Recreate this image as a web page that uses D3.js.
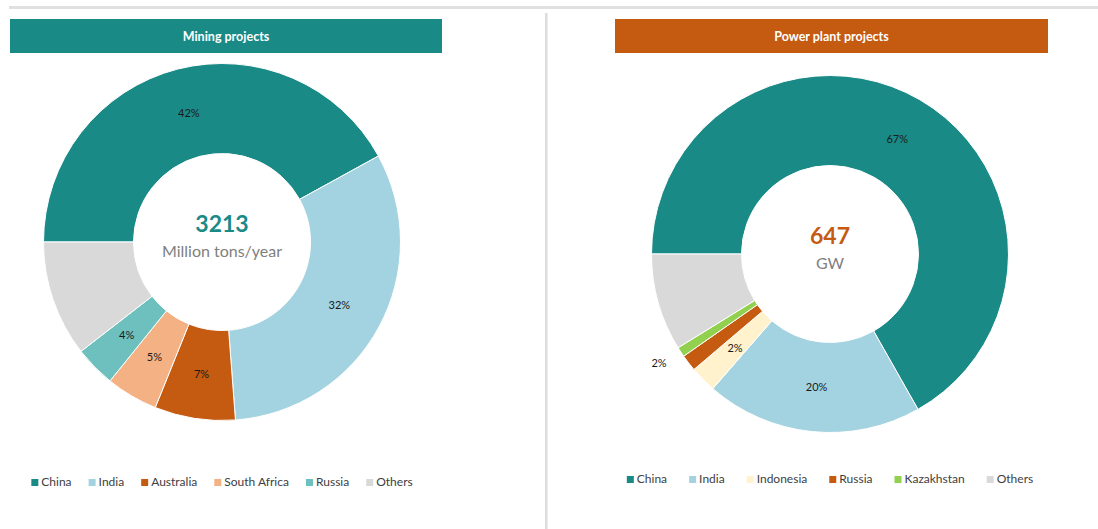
<!DOCTYPE html>
<html>
<head>
<meta charset="utf-8">
<script src="https://cdn.jsdelivr.net/npm/d3@7"></script>
<style>
  body { margin: 0; background: #fff; }
  svg { display: block; font-family: Lato, "Open Sans", sans-serif; }
</style>
</head>
<body>
<svg id="drawing_region"></svg>
<script>
// mining projects (share of 3213 Mt/yr, %)
const miningCountries = ["China", "India", "Australia", "South Africa", "Russia", "Others"];
const miningShares = [42.0, 31.8, 7.3, 4.7, 3.7, 10.5];
const miningColors = ["#1a8a87", "#a3d3e0", "#c55a11", "#f4b183", "#6dc0bd", "#d9d9d9"];
const miningLabelled = ["China", "India", "Australia", "South Africa", "Russia"];

// power plant projects (share of 647 GW, %)
const powerCountries = ["China", "India", "Indonesia", "Russia", "Kazakhstan", "Others"];
const powerShares = [66.8, 19.6, 2.4, 1.5, 0.9, 8.8];
const powerColors = ["#1a8a87", "#a3d3e0", "#fff2cc", "#c55a11", "#92d050", "#d9d9d9"];
const powerLabelled = ["China", "India", "Indonesia", "Russia"];
const powerOutside = ["Russia"];

const W = 1098, H = 529;
const svg = d3.select('#drawing_region').attr('width', W).attr('height', H);

// top rule and divider
svg.append('rect').attr('x', 9).attr('y', 6).attr('width', W - 9).attr('height', 3).attr('fill', '#e0e0e0');
svg.append('rect').attr('x', 545).attr('y', 13).attr('width', 2.5).attr('height', H - 13).attr('fill', '#dcdcdc');

function donut(cfg) {
    const g = svg.append('g');

    // header bar
    g.append('rect')
        .attr('x', cfg.header[0]).attr('y', 19)
        .attr('width', cfg.header[1] - cfg.header[0]).attr('height', 34)
        .attr('fill', cfg.headerColor);
    g.append('text')
        .attr('x', (cfg.header[0] + cfg.header[1]) / 2).attr('y', 40.5)
        .attr('text-anchor', 'middle')
        .attr('fill', '#fff')
        .style('font-size', '12.5px').style('font-weight', 'bold')
        .text(cfg.title);

    const data = cfg.categories.map((c, i) => ({ name: c, value: cfg.values[i], color: cfg.colors[i] }));
    const pie = d3.pie().sort(null).value(d => d.value)
        .startAngle(-Math.PI / 2).endAngle(Math.PI * 3 / 2);
    const arcs = pie(data);
    const rIn = 88.5, rOut = 178.5;
    const arc = d3.arc().innerRadius(rIn).outerRadius(rOut);

    const chart = g.append('g').attr('transform', `translate(${cfg.cx}, ${cfg.cy})`);
    chart.selectAll('path')
        .data(arcs)
        .enter()
        .append('path')
        .attr('d', arc)
        .attr('fill', d => d.data.color)
        .attr('stroke', '#fff')
        .attr('stroke-width', 1);

    // percent labels
    const fmt = v => Math.round(v) + '%';
    chart.selectAll('text.pct')
        .data(arcs.filter(d => cfg.labelled.includes(d.data.name)))
        .enter()
        .append('text')
        .attr('class', 'pct')
        .attr('transform', d => {
            if ((cfg.outside || []).includes(d.data.name)) {
                const a = (d.startAngle + d.endAngle) / 2 + 5 * Math.PI / 180;
                return `translate(${203 * Math.sin(a)}, ${-203 * Math.cos(a)})`;
            }
            const c = arc.centroid(d);
            return `translate(${c[0]}, ${c[1]})`;
        })
        .attr('text-anchor', 'middle')
        .attr('dy', '0.35em')
        .attr('fill', '#1a1a1a')
        .style('font-size', '11px')
        .text(d => fmt(d.data.value));

    // centre text
    chart.append('text')
        .attr('text-anchor', 'middle').attr('y', cfg.totalY)
        .attr('fill', cfg.totalColor)
        .style('font-size', '23px').style('font-weight', 'bold')
        .text(cfg.total);
    chart.append('text')
        .attr('text-anchor', 'middle').attr('y', cfg.unitY)
        .attr('fill', '#808080')
        .style('font-size', '16px')
        .text(cfg.unit);

    // legend, centred under the donut
    const legend = g.append('g').attr('transform', `translate(0, ${cfg.legendY})`);
    const items = legend.selectAll('g')
        .data(data)
        .enter()
        .append('g');
    items.append('rect')
        .attr('y', -7).attr('width', 7).attr('height', 7)
        .attr('fill', d => d.color);
    items.append('text')
        .attr('x', 10).attr('y', 0)
        .attr('fill', '#404040')
        .style('font-size', '12px')
        .text(d => d.name);
    let x = 0;
    const gap = cfg.legendGap;
    items.each(function() {
        const w = this.getBBox().width;
        d3.select(this).attr('transform', `translate(${x}, 0)`);
        x += w + gap;
    });
    const total = x - gap;
    legend.attr('transform', `translate(${cfg.cx - total / 2}, ${cfg.legendY})`);
}

donut({
    title: 'Mining projects', header: [10, 442], headerColor: '#1a8a87',
    cx: 222, cy: 242,
    categories: miningCountries, values: miningShares, colors: miningColors,
    labelled: miningLabelled,
    total: '3213', totalColor: '#1a8a87', totalY: -10, unit: 'Million tons/year', unitY: 15,
    legendY: 486, legendGap: 17
});

donut({
    title: 'Power plant projects', header: [615, 1048], headerColor: '#c55a11',
    cx: 830, cy: 254,
    categories: powerCountries, values: powerShares, colors: powerColors,
    labelled: powerLabelled, outside: powerOutside,
    total: '647', totalColor: '#c55a11', totalY: -10, unit: 'GW', unitY: 15,
    legendY: 483, legendGap: 22
});
</script>
</body>
</html>
